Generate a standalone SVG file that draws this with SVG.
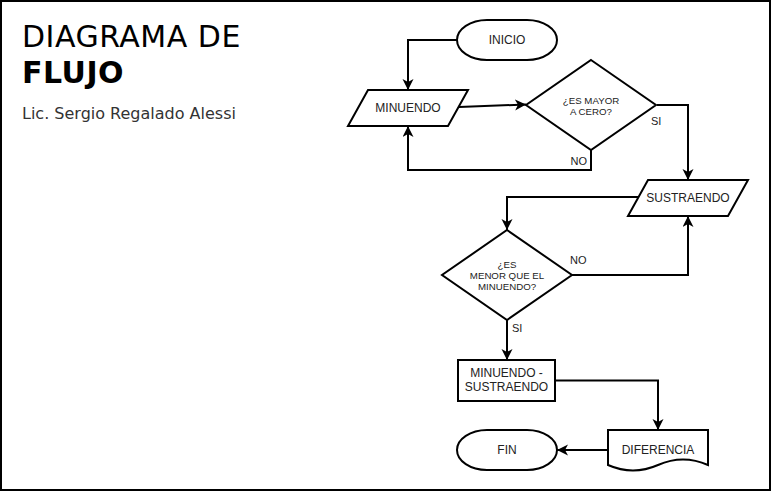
<svg xmlns="http://www.w3.org/2000/svg" width="772" height="492" viewBox="0 0 772 492">
<style>
.shape{fill:#fff;stroke:#000;stroke-width:2}
.conn{fill:none;stroke:#000;stroke-width:2;marker-end:url(#arr)}
.lbl{font-family:"Liberation Sans",Arial,sans-serif;font-size:12px;fill:#222;text-anchor:middle}
.dlbl{font-family:"Liberation Sans",Arial,sans-serif;font-size:9.7px;fill:#222;text-anchor:middle}
.elbl{font-family:"Liberation Sans",Arial,sans-serif;font-size:11px;fill:#222}
.title{font-family:"DejaVu Sans",Verdana,sans-serif;font-size:30px;fill:#000;letter-spacing:0.5px}
</style>
<defs>
<marker id="arr" markerUnits="userSpaceOnUse" markerWidth="12" markerHeight="12" refX="11" refY="5.5" orient="auto">
<path d="M11,5.5 L0,0 L3,5.5 L0,11 Z" fill="#000"/>
</marker>
</defs>
<rect x="1" y="1" width="769" height="489" fill="#fff" stroke="#000" stroke-width="2"/>
<g id="title">
<text class="title" x="22" y="47">DIAGRAMA DE</text>
<text class="title" x="22" y="83" font-weight="bold">FLUJO</text>
<text x="22" y="119" font-family="'DejaVu Sans',Verdana,sans-serif" font-size="16" fill="#333">Lic. Sergio Regalado Alessi</text>
</g>
<g id="connectors">
<path class="conn" d="M457,40 H408 V90"/>
<path class="conn" d="M459,107 L526,104.5"/>
<path class="conn" d="M657,105 H688 V180"/>
<path class="conn" d="M591,150 V170 H408 V126"/>
<path class="conn" d="M638,197 H507 V230"/>
<path class="conn" d="M572,275 H688 V216"/>
<path class="conn" d="M507,320 V360"/>
<path class="conn" d="M555,380.5 H658 V430"/>
<path class="conn" d="M608,450 H557"/>
<text class="elbl" x="651" y="124.5">SI</text>
<text class="elbl" x="570.5" y="164.5">NO</text>
<text class="elbl" x="570" y="263.5">NO</text>
<text class="elbl" x="512" y="331.5">SI</text>
</g>
<g id="inicio">
<rect class="shape" x="457" y="20" width="100" height="40" rx="30" ry="20"/>
<text class="lbl" x="507" y="44">INICIO</text>
</g>
<g id="minuendo">
<path class="shape" d="M368,90 H468 L448,126 H348 Z"/>
<text class="lbl" x="408" y="112">MINUENDO</text>
</g>
<g id="mayor-cero">
<path class="shape" d="M591,60 L656,105 L591,150 L526,105 Z"/>
<text class="dlbl" x="591" y="103.5">¿ES MAYOR</text>
<text class="dlbl" x="591" y="114.5">A CERO?</text>
</g>
<g id="sustraendo">
<path class="shape" d="M648,180 H748 L728,216 H628 Z"/>
<text class="lbl" x="688" y="202">SUSTRAENDO</text>
</g>
<g id="menor-minuendo">
<path class="shape" d="M507,230 L572,275 L507,320 L442,275 Z"/>
<text class="dlbl" x="507" y="267.5">¿ES</text>
<text class="dlbl" x="507" y="278.5">MENOR QUE EL</text>
<text class="dlbl" x="507" y="289.5">MINUENDO?</text>
</g>
<g id="resta">
<rect class="shape" x="458" y="360" width="97" height="41"/>
<text class="lbl" x="506.5" y="377">MINUENDO -</text>
<text class="lbl" x="506.5" y="391">SUSTRAENDO</text>
</g>
<g id="diferencia">
<path class="shape" d="M608,430 H708 V465 Q683,454 658,465 Q633,476 608,465 Z"/>
<text class="lbl" x="658" y="454">DIFERENCIA</text>
</g>
<g id="fin">
<rect class="shape" x="457" y="430" width="100" height="40" rx="30" ry="20"/>
<text class="lbl" x="507" y="454">FIN</text>
</g>
</svg>
